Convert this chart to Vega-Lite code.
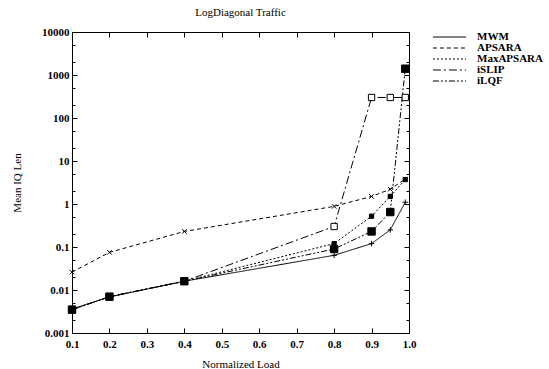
{
  "$schema": "https://vega.github.io/schema/vega-lite/v6.json",
  "autosize": {"type": "none"},
  "padding": {"left": 72, "top": 32, "right": 140, "bottom": 36},
  "width": 337,
  "height": 301,
  "background": "white",
  "title": {"text": "LogDiagonal Traffic", "font": "Liberation Serif", "fontSize": 11, "fontWeight": "normal", "color": "black", "offset": 8},
  "config": {
    "view": {"stroke": "black", "strokeWidth": 1},
    "axis": {"labelFont": "Liberation Serif", "titleFont": "Liberation Serif", "labelFontSize": 11, "titleFontSize": 11, "titleFontWeight": "normal", "labelColor": "black", "titleColor": "black", "domainColor": "black", "tickColor": "black", "grid": false, "labelFontWeight": "bold", "labelFlush": false},
    "legend": {"labelFont": "Liberation Serif", "labelFontSize": 11, "labelColor": "black", "labelFontWeight": "bold"}
  },
  "data": {"values": [
    {"load": 0.1, "series": "MWM", "len": 0.0036},
    {"load": 0.2, "series": "MWM", "len": 0.0069},
    {"load": 0.4, "series": "MWM", "len": 0.016},
    {"load": 0.8, "series": "MWM", "len": 0.064},
    {"load": 0.9, "series": "MWM", "len": 0.12},
    {"load": 0.95, "series": "MWM", "len": 0.25},
    {"load": 0.99, "series": "MWM", "len": 1.1},
    {"load": 0.1, "series": "APSARA", "len": 0.026},
    {"load": 0.2, "series": "APSARA", "len": 0.075},
    {"load": 0.4, "series": "APSARA", "len": 0.23},
    {"load": 0.8, "series": "APSARA", "len": 0.88},
    {"load": 0.9, "series": "APSARA", "len": 1.5},
    {"load": 0.95, "series": "APSARA", "len": 2.2},
    {"load": 0.99, "series": "APSARA", "len": 3.8},
    {"load": 0.1, "series": "MaxAPSARA", "len": 0.0035},
    {"load": 0.2, "series": "MaxAPSARA", "len": 0.007},
    {"load": 0.4, "series": "MaxAPSARA", "len": 0.016},
    {"load": 0.8, "series": "MaxAPSARA", "len": 0.12},
    {"load": 0.9, "series": "MaxAPSARA", "len": 0.52},
    {"load": 0.95, "series": "MaxAPSARA", "len": 1.5},
    {"load": 0.99, "series": "MaxAPSARA", "len": 3.7},
    {"load": 0.1, "series": "iSLIP", "len": 0.0035},
    {"load": 0.2, "series": "iSLIP", "len": 0.007},
    {"load": 0.4, "series": "iSLIP", "len": 0.016},
    {"load": 0.8, "series": "iSLIP", "len": 0.3},
    {"load": 0.9, "series": "iSLIP", "len": 300},
    {"load": 0.95, "series": "iSLIP", "len": 300},
    {"load": 0.99, "series": "iSLIP", "len": 300},
    {"load": 0.1, "series": "iLQF", "len": 0.0035},
    {"load": 0.2, "series": "iLQF", "len": 0.007},
    {"load": 0.4, "series": "iLQF", "len": 0.016},
    {"load": 0.8, "series": "iLQF", "len": 0.09},
    {"load": 0.9, "series": "iLQF", "len": 0.23},
    {"load": 0.95, "series": "iLQF", "len": 0.65},
    {"load": 0.99, "series": "iLQF", "len": 1400}
  ]},
  "resolve": {"axis": {"x": "independent", "y": "independent"}},
  "layer": [
    {
      "encoding": {
        "x": {"field": "load", "type": "quantitative", "title": "Normalized Load",
          "scale": {"domain": [0.1, 1.0], "nice": false, "zero": false},
          "axis": {"values": [0.1, 0.2, 0.3, 0.4, 0.5, 0.6, 0.7, 0.8, 0.9, 1.0], "format": ".1f", "tickSize": -5, "labelPadding": 10, "titlePadding": 9}},
        "y": {"field": "len", "type": "quantitative", "title": "Mean IQ Len",
          "scale": {"type": "log", "domain": [0.001, 10000], "nice": false},
          "axis": {"values": [0.001, 0.01, 0.1, 1, 10, 100, 1000, 10000], "format": "~g", "tickSize": -5, "labelPadding": 8, "titlePadding": 19}}
      },
      "layer": [
        {
          "mark": {"type": "line", "color": "black", "strokeWidth": 1},
          "encoding": {
            "detail": {"field": "series"},
            "strokeDash": {"field": "series", "type": "nominal",
              "scale": {"domain": ["MWM", "APSARA", "MaxAPSARA", "iSLIP", "iLQF"], "range": [[1, 0], [4, 3], [2, 2], [8, 3, 2, 3], [6, 2, 2, 2, 2, 2]]},
              "legend": {"title": null, "symbolType": "stroke", "symbolSize": 1100, "symbolStrokeColor": "black", "symbolStrokeWidth": 1, "offset": 22, "rowPadding": 0, "clipHeight": 10, "labelOffset": 10}}
          }
        },
        {
          "transform": [{"filter": "datum.series === 'MWM'"}],
          "mark": {"type": "point", "shape": "M-1,0L1,0M0,-1L0,1", "size": 30, "filled": false, "stroke": "black", "strokeWidth": 1, "opacity": 1}
        },
        {
          "transform": [{"filter": "datum.series === 'APSARA'"}],
          "mark": {"type": "point", "shape": "M-1,-1L1,1M-1,1L1,-1", "size": 20, "filled": false, "stroke": "black", "strokeWidth": 1, "opacity": 1}
        },
        {
          "transform": [{"filter": "datum.series === 'MaxAPSARA'"}],
          "mark": {"type": "point", "shape": "square", "size": 18, "filled": true, "fill": "black", "stroke": "black", "strokeWidth": 1, "opacity": 1}
        },
        {
          "transform": [{"filter": "datum.series === 'iSLIP'"}],
          "mark": {"type": "point", "shape": "square", "size": 40, "filled": true, "fill": "white", "stroke": "black", "strokeWidth": 1, "opacity": 1}
        },
        {
          "transform": [{"filter": "datum.series === 'iLQF'"}],
          "mark": {"type": "point", "shape": "square", "size": 55, "filled": true, "fill": "black", "stroke": "black", "strokeWidth": 1, "opacity": 1}
        }
      ]
    },
    {
      "mark": {"type": "point", "opacity": 0},
      "encoding": {
        "x": {"field": "load", "type": "quantitative",
          "axis": {"orient": "top", "values": [0.1, 0.2, 0.3, 0.4, 0.5, 0.6, 0.7, 0.8, 0.9, 1.0], "labels": false, "title": null, "domain": false, "tickSize": -5}},
        "y": {"field": "len", "type": "quantitative",
          "axis": {"orient": "right", "values": [0.001, 0.01, 0.1, 1, 10, 100, 1000, 10000], "labels": false, "title": null, "domain": false, "tickSize": -5}}
      }
    },
    {
      "mark": {"type": "point", "opacity": 0},
      "encoding": {
        "x": {"field": "load", "type": "quantitative", "axis": null},
        "y": {"field": "len", "type": "quantitative",
          "axis": {"orient": "left", "values": [0.002, 0.005, 0.02, 0.05, 0.2, 0.5, 2, 5, 20, 50, 200, 500, 2000, 5000], "labels": false, "title": null, "domain": false, "tickSize": -3}}
      }
    },
    {
      "mark": {"type": "point", "opacity": 0},
      "encoding": {
        "x": {"field": "load", "type": "quantitative", "axis": null},
        "y": {"field": "len", "type": "quantitative",
          "axis": {"orient": "right", "values": [0.002, 0.005, 0.02, 0.05, 0.2, 0.5, 2, 5, 20, 50, 200, 500, 2000, 5000], "labels": false, "title": null, "domain": false, "tickSize": -3}}
      }
    }
  ]
}
